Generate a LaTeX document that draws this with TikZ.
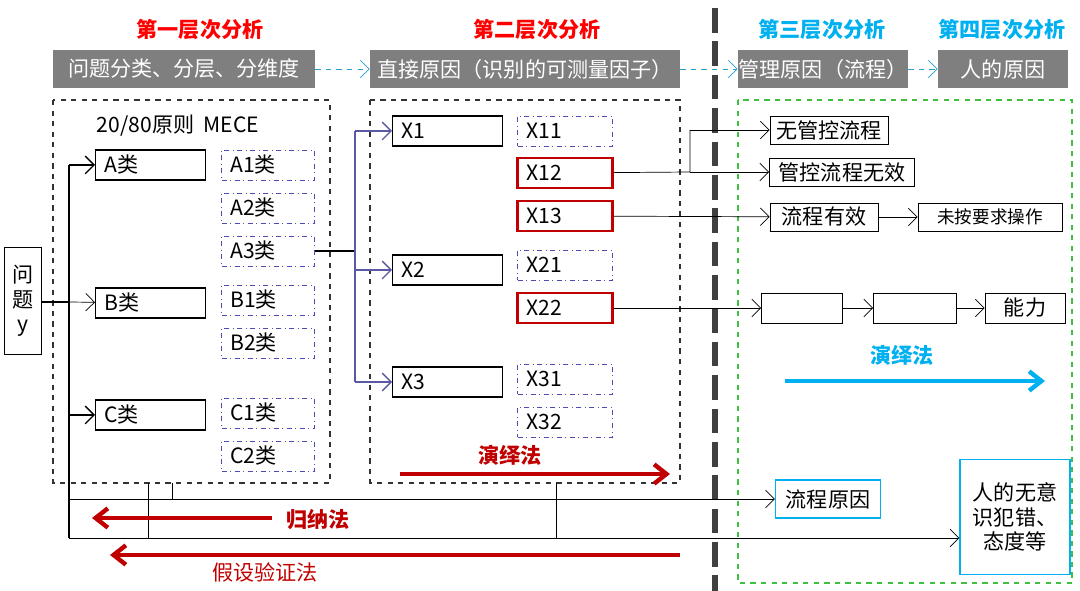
\documentclass[tikz,border=0pt]{standalone}
\usepackage{fontspec}
\setmainfont{Liberation Sans}
\newfontfamily\cjk{Noto Sans CJK SC}
\usetikzlibrary{arrows.meta}
\definecolor{redd}{RGB}{192,0,0}
\definecolor{cyn}{RGB}{0,176,240}
\definecolor{bar}{RGB}{127,127,127}
\tikzset{
  bx/.style={draw, thick, rectangle, minimum height=30*0.02cm, inner sep=0pt},
  lft/.style={draw, thick, rectangle, minimum height=30*0.02cm, inner ysep=0pt, inner xsep=5pt, text width=110*0.02cm-10pt, align=left},
  sub/.style={draw=blue!40!gray, dash dot, rectangle, minimum height=30*0.02cm, inner ysep=0pt, inner xsep=5pt, text width=93*0.02cm-10pt, align=left},
  hot/.style={draw=redd, line width=1.6pt, rectangle, minimum height=30*0.02cm, inner ysep=0pt, inner xsep=5pt, text width=95*0.02cm-10pt, align=left},
  hd/.style={fill=bar, text=white, minimum height=38*0.02cm, inner sep=0pt, font=\cjk\large},
  ttl/.style={font=\cjk\bfseries\large},
  ar/.style={-{Straight Barb[length=5pt]}},
  big/.style={line width=2.5pt, -{Straight Barb[length=7pt,width=11pt]}},
}
\begin{document}
\begin{tikzpicture}[x=0.02cm, y=-0.02cm, font=\cjk\large]
\useasboundingbox (0,0) rectangle (1080,591);
% titles
\node[ttl, text=red] (t1) at (200,30) {第一层次分析};
\node[ttl, text=red] (t2) at (537,30) {第二层次分析};
\node[ttl, text=cyn] (t3) at (822,30) {第三层次分析};
\node[ttl, text=cyn] (t4) at (1002,30) {第四层次分析};
\node[hd, minimum width=262*0.02cm] (h1) at (184,69) {问题分类、分层、分维度};
\node[hd, minimum width=310*0.02cm] (h2) at (525,69) {直接原因（识别的可测量因子）};
\node[hd, minimum width=170*0.02cm] (h3) at (823,69) {管理原因（流程）};
\node[hd, minimum width=130*0.02cm] (h4) at (1003,69) {人的原因};
\draw[ar, dashed, cyn!70!gray] (h1) -- (h2);
\draw[ar, dashed, cyn!70!gray] (h2) -- (h3);
\draw[ar, dashed, cyn!70!gray] (h3) -- (h4);
\draw[line width=3pt, dash pattern=on 14pt off 5pt, black!75] (715,8) -- (715,591);
% frames
\draw[dashed, thick, black!80] (53,100) rectangle (330,483);
\draw[dashed, thick, black!80] (370,100) rectangle (680,483);
\draw[dashed, thick, green!50!gray] (738,100) rectangle (1072,583);
\node (mece) at (178,126) {20/80{\cjk 原则}\ \ MECE};
% level 1
\node[bx, minimum height=107*0.02cm, minimum width=37*0.02cm, align=center] (y) at (23,301) {问\\题\\y};
\foreach \n/\t/\yy in {a/A/165, b/B/303, c/C/415}
  \node[lft, anchor=west] (\n) at (95,\yy) {\t 类};
\foreach \n/\t/\yy in {a1/A1/165, a2/A2/208, a3/A3/251, b1/B1/300, b2/B2/343, c1/C1/413, c2/C2/456}
  \node[sub] (\n) at (268,\yy) {\t 类};
\coordinate (j) at (69,302);
\draw[thick] (y.east |- j) -- (j);
\draw[thick] (69,165) -- (69,538);
\draw[ar, thick] (69,165) -- (a);
\draw[ar] (j) -- (b);
\draw[ar, thick] (69,415) -- (c);
% level 2
\foreach \n/\yy in {1/131, 2/270, 3/382}
  \node[lft, anchor=west] (x\n) at (392,\yy) {X\n};
\node[sub, text width=95*0.02cm-10pt] (x11) at (565,131) {X11};
\node[hot] (x12) at (565,173) {X12};
\node[hot] (x13) at (565,216) {X13};
\node[sub, text width=95*0.02cm-10pt] (x21) at (565,265) {X21};
\node[hot] (x22) at (565,308) {X22};
\node[sub, text width=95*0.02cm-10pt] (x31) at (565,379) {X31};
\node[sub, text width=95*0.02cm-10pt] (x32) at (565,422) {X32};
\coordinate (k) at (355,251);
\draw[thick] (a3) -- (k);
\draw[blue!30!gray, thick] (355,131) -- (355,382);
\foreach \n in {1,2,3}
  \draw[ar, blue!30!gray, thick] (x\n -| k) -- (x\n);
% level 3 / 4
\node[bx, draw=black, thin, minimum height=28*0.02cm, minimum width=118*0.02cm] (p1) at (829,130) {无管控流程};
\node[bx, draw=black, thin, minimum height=28*0.02cm, minimum width=145*0.02cm] (p2) at (842,172) {管控流程无效};
\node[bx, draw=black, thin, minimum height=28*0.02cm, minimum width=108*0.02cm] (p3) at (824,217) {流程有效};
\node[bx, draw=black, thin, minimum height=28*0.02cm, minimum width=144*0.02cm, font=\cjk] (p4) at (990,217) {未按要求操作};
\node[bx, draw=black, thin, minimum width=81*0.02cm] (e1) at (802,308) {};
\node[bx, draw=black, thin, minimum width=83*0.02cm] (e2) at (915,308) {};
\node[bx, draw=black, thin, minimum width=80*0.02cm] (e3) at (1025,308) {能力};
\draw (x12) -- (690,172) -- (690,130);
\draw[ar] (690,130) -- (p1);
\draw[ar] (690,172) -- (p2);
\draw[ar] (x13) -- (p3);
\draw[ar] (p3) -- (p4);
\draw[ar] (x22) -- (e1);
\draw[ar] (e1) -- (e2);
\draw[ar] (e2) -- (e3);
\node[font=\cjk\bfseries\large, text=cyn] (dd3) at (902,355) {演绎法};
\draw[big, cyn] (785,381) -- (1045,381);
% methods
\node[font=\cjk\bfseries\large, text=redd] (dd2) at (510,455) {演绎法};
\draw[big, redd] (400,474) -- (670,474);
\node[draw=cyn, thick, minimum width=105*0.02cm, minimum height=38*0.02cm] (lc) at (828,499) {流程原因};
\node[draw=cyn, thick, minimum width=110*0.02cm, minimum height=115*0.02cm, align=center] (rw) at (1015,517) {人的无意\\识犯错、\\态度等};
\draw[ar] (69,499) -- (lc);
\draw[ar] (69,538) -- (rw.west |- 0,538);
\draw (172,483) -- (172,499);
\draw (148,483) -- (148,538);
\draw (556,483) -- (556,538);
\node[font=\cjk\bfseries\large, text=redd] (gn) at (318,520) {归纳法};
\draw[big, redd] (272,518) -- (92,518);
\node[font=\cjk\large, text=redd] (jy) at (265,572) {假设验证法};
\draw[big, redd] (680,555) -- (110,555);
\end{tikzpicture}
\end{document}
